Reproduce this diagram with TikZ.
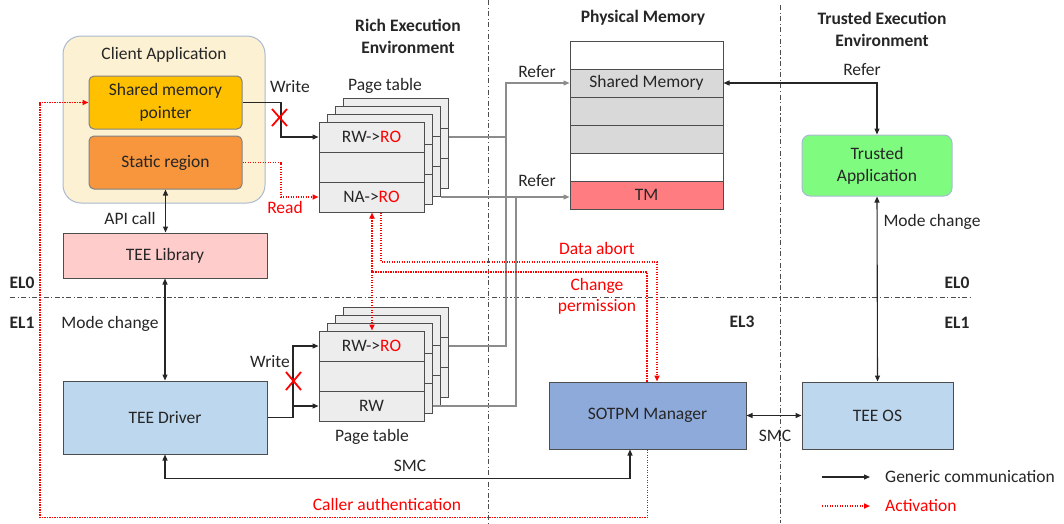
\documentclass[tikz,border=0pt]{standalone}
\usepackage{fontspec}
\setmainfont{Carlito}
\usetikzlibrary{arrows.meta}
\definecolor{txt}{HTML}{262626}
\definecolor{bord}{HTML}{4D4D4D}
\definecolor{cafill}{HTML}{FDF1D4}
\definecolor{cabord}{HTML}{A9BAD0}
\definecolor{smpfill}{HTML}{FFC000}
\definecolor{statfill}{HTML}{F7963C}
\definecolor{libfill}{HTML}{FFCCCC}
\definecolor{drvfill}{HTML}{BDD7EE}
\definecolor{sotfill}{HTML}{8EAADB}
\definecolor{tafill}{HTML}{7FFB7F}
\definecolor{pgfill}{HTML}{EDEDED}
\definecolor{memgray}{HTML}{D9D9D9}
\definecolor{memred}{HTML}{FF7C80}
\definecolor{refgray}{HTML}{8C8C8C}
\definecolor{actred}{HTML}{FF0000}
\tikzset{
  tip/.tip={Triangle[length=6pt,width=5pt]},
  box/.style={draw=bord, line width=1pt, text=txt, inner sep=0pt, align=center},
  pagebox/.style={draw=bord, line width=1pt, fill=pgfill, minimum width=105pt, minimum height=90pt, inner sep=0pt},
  ptrow/.style={draw=bord, line width=1pt, fill=pgfill, minimum width=105pt, minimum height=30pt, inner sep=0pt, text=txt},
  memrow/.style={draw=bord, line width=1pt, minimum width=153pt, minimum height=28pt, inner sep=0pt, text=txt},
  gen/.style={draw=txt, line width=1.1pt},
  refer/.style={draw=refgray, line width=1.1pt},
  activ/.style={draw=actred, line width=1.6pt, dash pattern=on 1.4pt off 1.1pt},
  sep/.style={draw=bord, line width=1pt, dash pattern=on 5pt off 2.5pt on 1.2pt off 2.5pt},
  lbl/.style={text=txt, inner sep=0pt},
  rlbl/.style={text=actred, inner sep=0pt},
  hd/.style={text=txt, inner sep=0pt, font=\fontsize{17.5}{22}\selectfont\bfseries, align=center},
  xmark/.style={draw=actred, line width=1.8pt},
}
\begin{document}
\begin{tikzpicture}[x=1pt, y=-1pt, font=\fontsize{17.5}{20}\selectfont]
\useasboundingbox (0,0) rectangle (1064,523);

% separators
\draw[sep] (10,297) -- (970,297);
\draw[sep] (488,0) -- (488,523);
\draw[sep] (780,5) -- (780,523);

% headings
\node[hd] (hree) at (408,36) {Rich Execution\\Environment};
\node[hd] (hpm) at (643,18) {Physical Memory};
\node[hd] (htee) at (882,29) {Trusted Execution\\Environment};

% EL labels
\node[hd] (el0a) at (22,283) {EL0};
\node[hd] (el1a) at (22,323) {EL1};
\node[hd] (el3) at (742,322) {EL3};
\node[hd] (el0b) at (957,283) {EL0};
\node[hd] (el1b) at (957,323) {EL1};

% client application
\node[box, draw=cabord, fill=cafill, rounded corners=18pt, minimum width=202pt, minimum height=167pt] (ca) at (164,119.5) {};
\node[lbl] (catitle) at (164,55) {Client Application};
\node[box, draw=bord!70, fill=smpfill, rounded corners=5pt, minimum width=153pt, minimum height=53pt, font=\fontsize{17.5}{23}\selectfont] (smp) at (165.5,102.5) {Shared memory\\pointer};
\node[box, draw=bord!70, fill=statfill, rounded corners=5pt, minimum width=153pt, minimum height=53pt] (stat) at (165.5,162.5) {Static region};

\node[box, fill=libfill, minimum width=204pt, minimum height=45pt] (lib) at (165,255.5) {TEE Library};
\node[box, fill=drvfill, minimum width=204pt, minimum height=73pt] (drv) at (165,417.5) {TEE Driver};
\node[box, fill=sotfill, minimum width=197pt, minimum height=67pt] (sot) at (647.5,415.5) {SOTPM Manager};
\node[box, fill=drvfill, minimum width=151pt, minimum height=67pt] (os) at (877.5,415.5) {TEE OS};
\node[box, draw=cabord, fill=tafill, rounded corners=8pt, minimum width=150pt, minimum height=61pt, font=\fontsize{17.5}{22}\selectfont] (ta) at (877,165.5) {Trusted\\Application};

% physical memory
\node[memrow, fill=white] (m0) at (646.5,55) {};
\node[memrow, fill=memgray] (m1) at (646.5,83) {Shared Memory};
\node[memrow, fill=memgray] (m2) at (646.5,111) {};
\node[memrow, fill=memgray] (m3) at (646.5,139) {};
\node[memrow, fill=white] (m4) at (646.5,167) {};
\node[memrow, fill=memred] (m5) at (646.5,195) {TM};

% upper page table stack
\foreach \k in {3,2,1}{
  \node[pagebox] (ub\k) at (371.5+8*\k,167-8*\k) {};
  \draw[draw=bord, line width=1pt] (ub\k.west) ++(0,-15) -- ++(105,0);
  \draw[draw=bord, line width=1pt] (ub\k.west) ++(0,15) -- ++(105,0);
}
\node[ptrow] (u1) at (371.5,137) {RW->\textcolor{actred}{RO}};
\node[ptrow] (u2) at (371.5,167) {};
\node[ptrow] (u3) at (371.5,197) {NA->\textcolor{actred}{RO}};
\node[lbl] (ptlab1) at (385,86) {Page table};

% lower page table stack
\foreach \k in {3,2,1}{
  \node[pagebox] (lb\k) at (371.5+8*\k,376-8*\k) {};
  \draw[draw=bord, line width=1pt] (lb\k.west) ++(0,-15) -- ++(105,0);
  \draw[draw=bord, line width=1pt] (lb\k.west) ++(0,15) -- ++(105,0);
}
\node[ptrow] (l1) at (371.5,346) {RW->\textcolor{actred}{RO}};
\node[ptrow] (l2) at (371.5,376) {};
\node[ptrow] (l3) at (371.5,406) {RW};
\node[lbl] (ptlab2) at (372,437) {Page table};

% refer connectors (gray)
\draw[refer, -tip] (ub3.east |- u1) -- (506,137) |- (m1.west);
\draw[refer] (lb3.east |- l1) -- (506,346) -- (506,137);
\draw[refer, -tip] (ub2.east |- u3) -- (m5.west |- u3);
\draw[refer] (lb1.east |- l3) -- (516,406) -- (516,197);
\node[lbl] (ref1) at (537,72) {Refer};
\node[lbl] (ref2) at (537,181) {Refer};

% client application writes / reads
\draw[gen, -tip] (smp.east) -- (281,102.5) |- (u1.west);
\draw[xmark] (272,109) -- (287,126) (287,109) -- (272,126);
\node[lbl] (wr1) at (290,87) {Write};
\draw[activ, -tip] (stat.east) -- (281,162.5) |- (u3.west);
\node[rlbl] (rd) at (285,207) {Read};

% API call, mode change
\draw[gen, tip-tip] (stat.south) -- (stat.south |- lib.north);
\node[lbl] (api) at (130,218) {API call};
\draw[gen, tip-tip] (lib.south) -- (drv.north);
\node[lbl] (mc1) at (110,324) {Mode change};

% driver writes
\draw[gen, -tip] (drv.east) -- (293,417.5) |- (l1.west);
\draw[gen, -tip] (293,406) -- (l3.west);
\draw[xmark] (286,372) -- (301,390) (301,372) -- (286,390);
\node[lbl] (wr2) at (270,362) {Write};

% activation: data abort, change permission
\draw[activ, -tip] ([xshift=9.5pt]u3.south) |- (657,262) -- ([xshift=9.5pt]sot.north);
\node[rlbl] (da) at (597,248) {Data abort};
\draw[activ, -tip] ([xshift=-0.5pt]sot.north) |- (372,272) -- ([xshift=0.5pt]u3.south);
\draw[activ, -tip] (372,272) -- ([xshift=0.5pt]l1.north);
\node[rlbl, align=center, font=\fontsize{17.5}{21}\selectfont] (cp) at (597,296) {Change\\permission};

% SMC
\draw[gen, tip-tip] (drv.south) -- ++(0,24) -| ([xshift=-17.5pt]sot.south);
\node[lbl] (smc1) at (410,466) {SMC};
\draw[gen, tip-tip] (sot.east) -- (os.west);
\node[lbl] (smc2) at (775,436) {SMC};

% caller authentication
\draw[activ, -tip] (sot.south) -- ++(0,68) -| (40,102.5) -- (smp.west);
\node[rlbl] (cauth) at (387,504) {Caller authentication};

% TEE side
\draw[gen, tip-tip] (m1.east) -| (ta.north);
\node[lbl] (ref3) at (862,70) {Refer};
\draw[gen, tip-tip] (ta.south) -- (os.north);
\node[lbl] (mc2) at (932,222) {Mode change};

% legend
\coordinate (lga) at (822,477);
\coordinate (lgb) at (870,477);
\coordinate (lgc) at (822,506);
\coordinate (lgd) at (870,506);
\draw[gen, -tip] (lga) -- (lgb);
\draw[activ, -tip] (lgc) -- (lgd);
\node[lbl, anchor=west] (lgt1) at (885,477) {Generic communication};
\node[rlbl, anchor=west] (lgt2) at (885,506) {Activation};
\end{tikzpicture}
\end{document}
